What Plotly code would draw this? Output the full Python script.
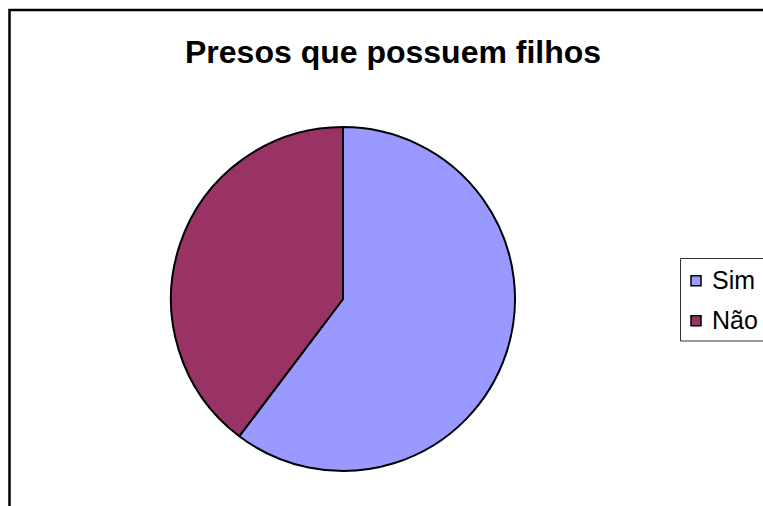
import plotly.graph_objects as go

W, H = 763, 506

labels = ["Sim", "Não"]
values = [60.3, 39.7]
colors = ["#9999FF", "#993366"]
title_text = "Presos que possuem filhos"

def px(x):
    return x / W

def py(y):
    return 1 - y / H

cx, cy, r = 343, 299, 172

fig = go.Figure()
fig.add_trace(go.Pie(
    labels=labels,
    values=values,
    sort=False,
    direction="clockwise",
    rotation=0,
    textinfo="none",
    hoverinfo="label+percent",
    marker=dict(colors=colors, line=dict(color="#000000", width=2)),
    domain=dict(x=[px(cx - r), px(cx + r)], y=[py(cy + r), py(cy - r)]),
    showlegend=False,
))

shapes = []
annotations = []

# outer chart frame (extends beyond the visible area, like the reference)
shapes.append(dict(type="rect", xref="paper", yref="paper",
                   x0=px(9.5), y0=py(560), x1=px(820), y1=py(10),
                   line=dict(color="#000000", width=2.5), fillcolor="rgba(0,0,0,0)"))

# legend box
shapes.append(dict(type="rect", xref="paper", yref="paper",
                   x0=px(680.5), y0=py(341), x1=px(790), y1=py(258.5),
                   line=dict(color="#333333", width=1), fillcolor="rgba(0,0,0,0)"))

leg_y = [280.7, 320.7]
for lab, col, ly in zip(labels, colors, leg_y):
    shapes.append(dict(type="rect", xref="paper", yref="paper",
                       x0=px(691), y0=py(ly + 5), x1=px(701), y1=py(ly - 5),
                       line=dict(color="#000000", width=1.5), fillcolor=col))
    annotations.append(dict(text=lab, x=px(710), y=py(ly - 0.5), xref="paper", yref="paper",
                            xanchor="left", yanchor="middle", showarrow=False,
                            font=dict(family="Liberation Sans, Arial, sans-serif", size=25, color="#000000")))

annotations.append(dict(text="<b>" + title_text + "</b>", x=px(393), y=py(52),
                        xref="paper", yref="paper", xanchor="center", yanchor="middle",
                        showarrow=False,
                        font=dict(family="Liberation Sans, Arial, sans-serif", size=32, color="#000000")))

fig.update_layout(
    width=W, height=H,
    margin=dict(l=0, r=0, t=0, b=0),
    paper_bgcolor="#FFFFFF",
    plot_bgcolor="#FFFFFF",
    shapes=shapes,
    annotations=annotations,
    showlegend=False,
)

fig.write_html("out.html")
